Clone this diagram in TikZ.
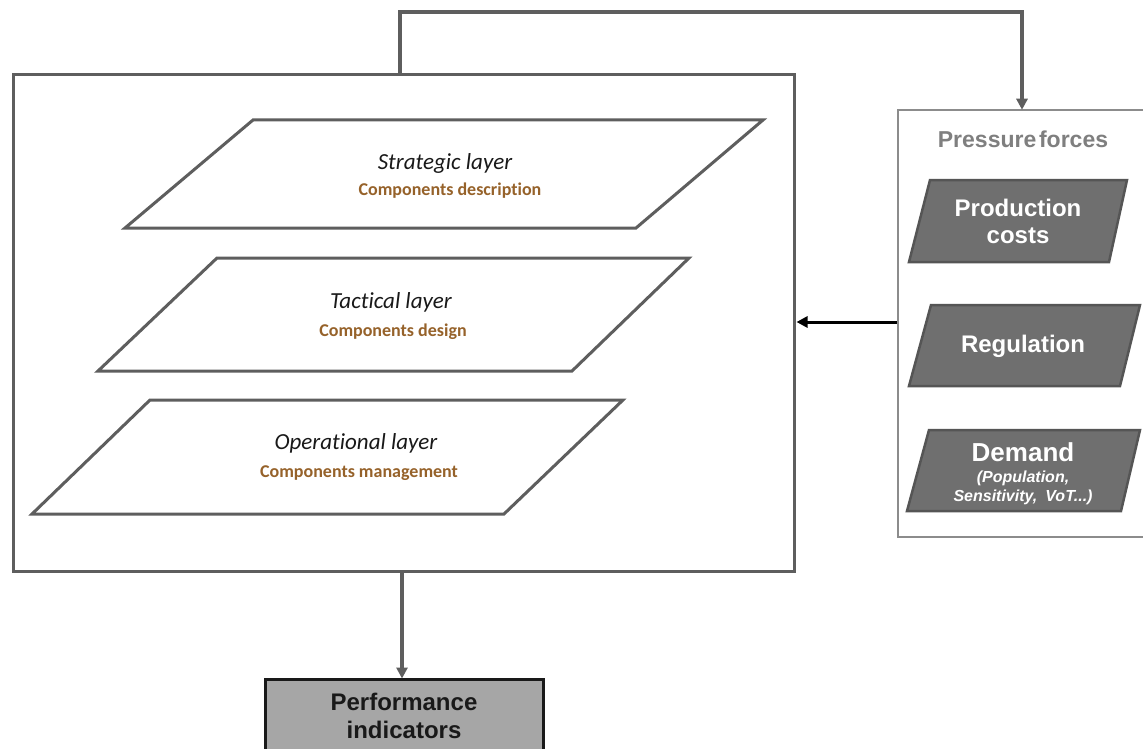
\documentclass[tikz,border=0pt]{standalone}
\usepackage{fontspec}
\setmainfont{Liberation Sans}
\newfontfamily\calfont[Ligatures=NoCommon]{Carlito}
\usetikzlibrary{arrows.meta}
\definecolor{linegray}{HTML}{5E5E5E}
\definecolor{boxgray}{HTML}{8C8C8C}
\definecolor{presstext}{HTML}{7F7F7F}
\definecolor{darkfill}{HTML}{6F6F6F}
\definecolor{darkedge}{HTML}{555555}
\definecolor{perffill}{HTML}{A6A6A6}
\definecolor{brownish}{RGB}{150,98,42}
\tikzset{
  conn/.style={draw=linegray, line width=4pt},
  gtip/.style={-{Triangle[length=11pt,width=11pt]}},
  layerbox/.style={draw=linegray, line width=3pt, fill=white, line join=miter},
  forcebox/.style={draw=darkedge, line width=2.5pt, fill=darkfill, line join=miter},
  layertitle/.style={font=\calfont\itshape\fontsize{23}{27}\selectfont, text=black!90, inner sep=0pt},
  layersub/.style={font=\calfont\bfseries\fontsize{18}{22}\selectfont, text=brownish, inner sep=0pt},
  forcetext/.style={font=\bfseries\fontsize{24}{29}\selectfont, text=white, align=center, inner sep=0pt},
}
\begin{document}
\begin{tikzpicture}[x=1pt,y=-1pt]
\useasboundingbox (0,0) rectangle (1143,749);
\clip (0,0) rectangle (1143,749);
\fill[white] (0,0) rectangle (1143,749);

% main box
\node[draw=linegray, line width=3pt, minimum width=781pt, minimum height=496pt, inner sep=0pt] (main) at (403.5,323) {};

% right box (extends past right edge)
\node[draw=boxgray, line width=2.5pt, minimum width=270pt, minimum height=427pt, inner sep=0pt] (press) at (1033,323.5) {};
\node[font=\bfseries\fontsize{23}{27}\selectfont, text=presstext, inner sep=0pt] (presstitle) at (1023,139) {Pressure\hspace{0.12em}forces};

% layers
\draw[layerbox] (253,120) -- (763,120) -- (636,228) -- (125,228) -- cycle;
\node[layertitle] (strat) at (445,163) {Strategic layer};
\node[layersub] (stratsub) at (450,191) {Components description};

\draw[layerbox] (217,258) -- (689,258) -- (572,371) -- (98,371) -- cycle;
\node[layertitle] (tact) at (391,302) {Tactical layer};
\node[layersub] (tactsub) at (393,332) {Components design};

\draw[layerbox] (150,400) -- (623,400) -- (504,514) -- (32,514) -- cycle;
\node[layertitle] (oper) at (356,443) {Operational layer};
\node[layersub] (opersub) at (359,473) {Components management};

% pressure force boxes
\draw[forcebox] (930,180) -- (1127,180) -- (1109,262) -- (909,262) -- cycle;
\node[forcetext] (prod) at (1018,221) {Production\\[-2pt]costs};

\draw[forcebox] (931,305) -- (1140,305) -- (1120,386) -- (909,386) -- cycle;
\node[forcetext] (reg) at (1023,346) {Regulation};

\draw[forcebox] (929,430) -- (1140,430) -- (1121,511) -- (907,511) -- cycle;
\node[forcetext, font=\bfseries\fontsize{26}{30}\selectfont] (dem) at (1023,452) {Demand};
\node[forcetext, font=\bfseries\itshape\fontsize{16}{19.5}\selectfont] (demsub) at (1023,488) {(Population,\\Sensitivity,\enspace VoT...)};

% performance indicators
\node[draw=black!90, line width=3pt, fill=perffill, minimum width=278pt, minimum height=120pt, inner sep=0pt] (perf) at (404,739) {};
\node[font=\bfseries\fontsize{24}{28}\selectfont, text=black!90, align=center, inner sep=0pt] (perftext) at (404,716) {Performance\\indicators};

% connectors
\coordinate (up) at (400,12);
\coordinate (over) at (1022,12);
\coordinate (dn) at (402,0);
\coordinate (mid) at (0,322);
\draw[conn, gtip, line join=miter] (up |- main.north) -- (up) -- (over) -- ([yshift=-1pt]over |- press.north);
\draw[conn, gtip] (dn |- main.south) -- ([yshift=-1pt]dn |- perf.north);
\draw[line width=3pt, black, -{Triangle[length=11pt,width=11pt]}] (press.west |- mid) -- ([xshift=1pt]main.east |- mid);
\end{tikzpicture}
\end{document}
